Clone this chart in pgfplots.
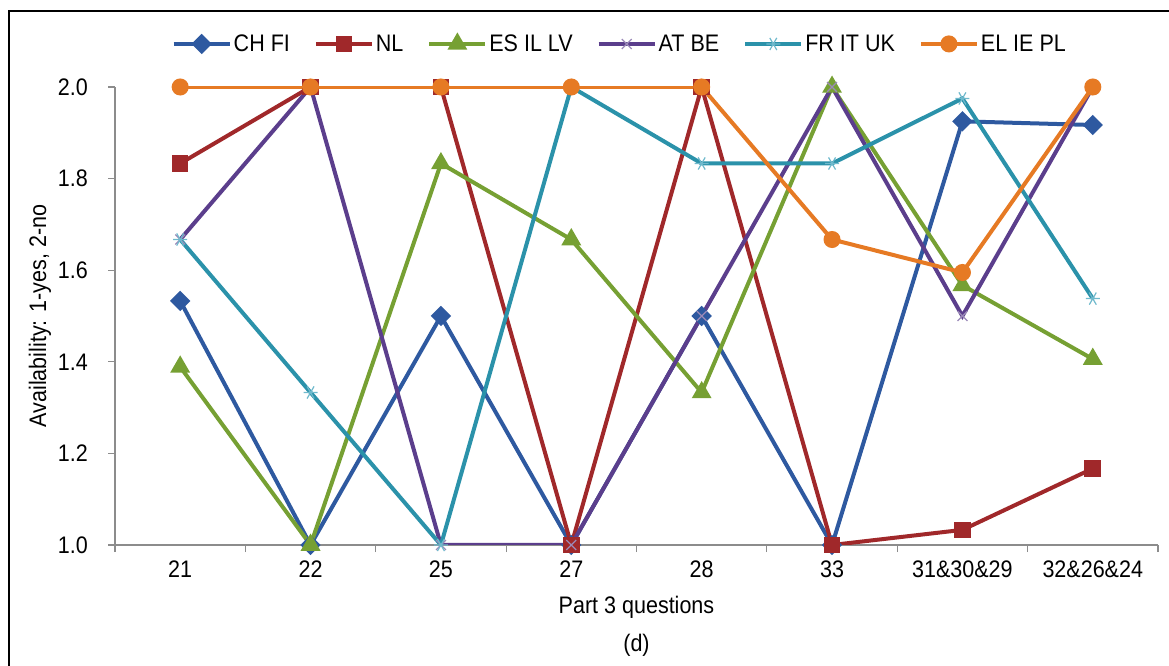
\documentclass[border=0pt]{standalone}
\usepackage{fontspec}
\setmainfont{Liberation Sans}[FakeStretch=0.9]
\usepackage{pgfplots}
\pgfplotsset{compat=1.18}

\definecolor{chfi}{HTML}{2E59A0}
\definecolor{nl}{HTML}{A0282A}
\definecolor{esil}{HTML}{76A033}
\definecolor{atbe}{HTML}{5B3E8C}
\definecolor{atbem}{HTML}{9B8AB8}
\definecolor{frit}{HTML}{2B92AA}
\definecolor{fritm}{HTML}{6FB9CC}
\definecolor{elie}{HTML}{E67A24}
\definecolor{axisgray}{HTML}{8C8C8C}

\begin{document}
\begin{tikzpicture}[font=\fontsize{24}{28}\selectfont]
\begin{axis}[
  name=main,
  at={(115bp,121bp)}, anchor=south west,
  scale only axis, width=1043bp, height=458bp,
  xmin=-0.5, xmax=7.5, ymin=1, ymax=2,
  axis x line*=bottom, axis y line*=left,
  axis line style={axisgray, line width=1.4bp},
  tick align=outside,
  xtick={0,...,7},
  xticklabels={21,22,25,27,28,33,31\&30\&29,32\&26\&24},
  major x tick style={draw=none},
  minor xtick={-0.5,0.5,...,7.5},
  ytick={1,1.2,...,2.01},
  major tick length=7bp, minor tick length=7bp,
  tick style={axisgray, line width=1.2bp},
  /pgf/number format/fixed, /pgf/number format/fixed zerofill,
  /pgf/number format/precision=1, /pgf/number format/assume math mode=true,
  xticklabel style={anchor=north, inner sep=0pt, yshift=-9bp},
  yticklabel style={anchor=east, inner sep=0pt, xshift=-20bp},
  xlabel={Part 3 questions},
  xlabel style={at={(axis description cs:0.5,-0.1354)}, anchor=center},
  ylabel={Availability: 1-yes, 2-no},
  ylabel style={at={(axis description cs:-0.0719,0.5)}, anchor=center},
  every axis plot/.append style={line width=4bp},
  legend columns=6,
  legend style={at={(axis description cs:0.484,1.094)}, anchor=center, draw=none, fill=none,
    /tikz/every even column/.append style={column sep=22bp}},
  legend image code/.code={\draw[mark repeat=2,mark phase=2] plot coordinates {(0bp,0bp)(28bp,0bp)(56bp,0bp)};},
]
\addplot[color=chfi, mark=square*, mark size=5.2bp, mark options={rotate=45, solid}] coordinates {
  (0,1.533)(1,1.0)(2,1.5)(3,1.0)(4,1.5)(5,1.0)(6,1.925)(7,1.917)};
\addlegendentry{CH FI}
\addplot[color=nl, mark=square*, mark size=6.3bp] coordinates {
  (0,1.833)(1,2.0)(2,2.0)(3,1.0)(4,2.0)(5,1.0)(6,1.033)(7,1.167)};
\addlegendentry{NL}
\addplot[color=esil, mark=triangle*, mark size=7.5bp] coordinates {
  (0,1.389)(1,1.0)(2,1.833)(3,1.667)(4,1.333)(5,2.0)(6,1.567)(7,1.406)};
\addlegendentry{ES IL LV}
\addplot[color=atbe, mark=x, mark size=7bp, mark options={atbem, line width=1.2bp}] coordinates {
  (0,1.667)(1,2.0)(2,1.0)(3,1.0)(4,1.5)(5,2.0)(6,1.5)(7,2.0)};
\addlegendentry{AT BE}
\addplot[color=frit, mark=asterisk, mark size=7bp, mark options={fritm, rotate=90, line width=1.2bp}] coordinates {
  (0,1.667)(1,1.333)(2,1.0)(3,2.0)(4,1.833)(5,1.833)(6,1.975)(7,1.538)};
\addlegendentry{FR IT UK}
\addplot[color=elie, mark=*, mark size=6.5bp] coordinates {
  (0,2.0)(1,2.0)(2,2.0)(3,2.0)(4,2.0)(5,1.667)(6,1.595)(7,2.0)};
\addlegendentry{EL IE PL}
\end{axis}
\node at ([yshift=-100bp]main.south) {(d)};
\draw[black, line width=2.2bp] (9bp,-20bp) -- (9bp,655bp) -- (1200bp,655bp);
\pgfresetboundingbox
\path[use as bounding box] (0,0) rectangle (1169bp,666bp);
\end{tikzpicture}
\end{document}
